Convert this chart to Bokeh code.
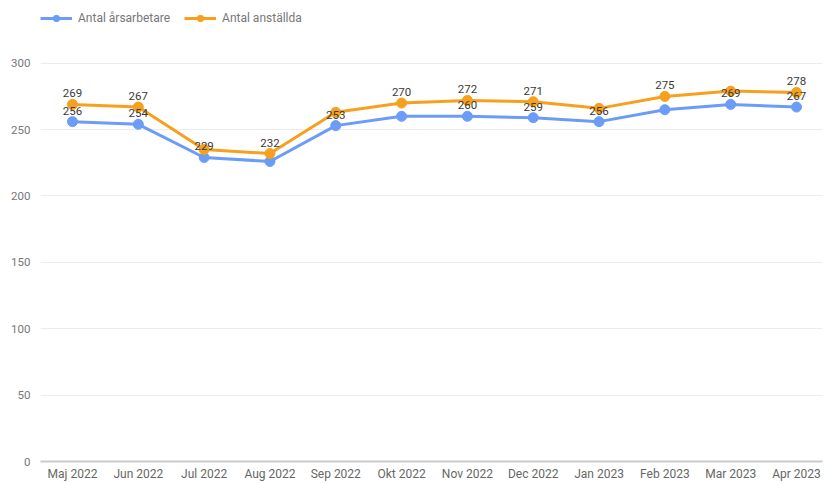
from bokeh.plotting import figure
from bokeh.models import ColumnDataSource, Range1d, FixedTicker, Legend, LegendItem
from bokeh.core.properties import value
from bokeh.embed import file_html
from bokeh.resources import INLINE

months = ["Maj 2022", "Jun 2022", "Jul 2022", "Aug 2022", "Sep 2022", "Okt 2022",
          "Nov 2022", "Dec 2022", "Jan 2023", "Feb 2023", "Mar 2023", "Apr 2023"]
arsarbetare = [256, 254, 229, 226, 253, 260, 260, 259, 256, 265, 269, 267]
anstallda = [269, 267, 235, 232, 263, 270, 272, 271, 266, 275, 279, 278]
# which data labels are visible (overlapping ones are hidden in the original)
show_ars = [True, True, True, False, True, False, True, True, True, False, True, True]
show_ans = [True, True, False, True, False, True, True, True, False, True, False, True]
y_ticks = [0, 50, 100, 150, 200, 250, 300]

BLUE = "#6b9cf7"
ORANGE = "#f7a01d"
FONT = "Roboto"

x = list(range(len(months)))

# frame spans the legend area too; top gridline (300) lands 63px below the top
p = figure(width=826, height=483, output_backend="svg", toolbar_location=None,
           x_range=Range1d(-0.486, 11.395), y_range=Range1d(0, 347.25),
           min_border_left=40, min_border_right=4, min_border_top=0, min_border_bottom=19)
p.outline_line_color = None
p.background_fill_color = "white"
p.border_fill_color = "white"

p.xaxis.ticker = FixedTicker(ticks=x)
p.xaxis.major_label_overrides = {i: m for i, m in zip(x, months)}
p.xaxis.major_tick_line_color = None
p.xaxis.minor_tick_line_color = None
p.xaxis.major_tick_out = 0
p.xaxis.axis_label_standoff = 0
p.xaxis.axis_line_color = "#cccccc"
p.xaxis.axis_line_width = 2
p.xaxis.major_label_standoff = 5
p.xaxis.major_label_text_font = FONT
p.xaxis.major_label_text_font_size = "12px"
p.xaxis.major_label_text_color = "#666666"
p.xgrid.grid_line_color = None

p.yaxis.ticker = FixedTicker(ticks=y_ticks)
p.yaxis.axis_line_color = None
p.yaxis.major_tick_line_color = None
p.yaxis.minor_tick_line_color = None
p.yaxis.major_label_standoff = 4
p.yaxis.major_label_text_font = FONT
p.yaxis.major_label_text_font_size = "11.5px"
p.yaxis.major_label_text_color = "#777777"
p.ygrid.grid_line_color = "#ececec"
p.ygrid.grid_line_width = 1

src_a = ColumnDataSource(dict(x=x, y=arsarbetare, t=[str(v) if s else "" for v, s in zip(arsarbetare, show_ars)]))
src_b = ColumnDataSource(dict(x=x, y=anstallda, t=[str(v) if s else "" for v, s in zip(anstallda, show_ans)]))

la = p.line("x", "y", source=src_a, line_color=BLUE, line_width=3)
ca = p.scatter("x", "y", source=src_a, size=10, fill_color=BLUE, line_color=BLUE)
lb = p.line("x", "y", source=src_b, line_color=ORANGE, line_width=3)
cb = p.scatter("x", "y", source=src_b, size=10, fill_color=ORANGE, line_color=ORANGE)

for src in (src_a, src_b):
    p.text("x", "y", text="t", source=src, text_align="center", text_baseline="bottom",
           y_offset=-7, text_font=value(FONT), text_font_size="11.5px", text_color="#3a3a3a")

legend = Legend(items=[LegendItem(label="Antal årsarbetare", renderers=[la, ca]),
                       LegendItem(label="Antal anställda", renderers=[lb, cb])],
                orientation="horizontal", location=(0, 435),
                padding=0, margin=0, spacing=14, border_line_color=None,
                background_fill_alpha=0, glyph_width=32, glyph_height=16,
                label_height=16, label_standoff=6,
                label_text_font=FONT, label_text_font_size="12px",
                label_text_color="#777777")
p.add_layout(legend, "center")

open("out.html", "w").write(file_html(p, INLINE))
